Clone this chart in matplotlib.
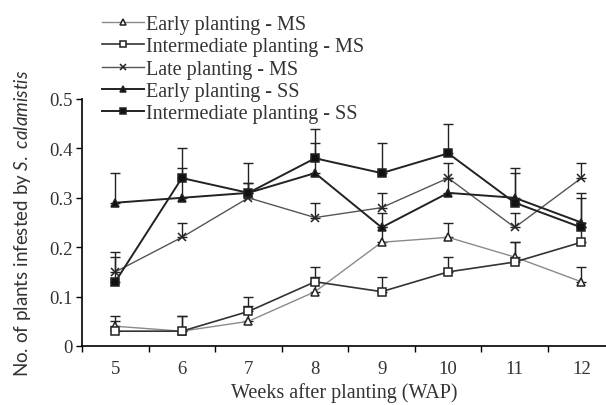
import numpy as np
import matplotlib
matplotlib.use("Agg")
import matplotlib.pyplot as plt

plt.rcParams['font.family'] = ['Liberation Serif', 'DejaVu Serif']
plt.rcParams['mathtext.fontset'] = 'custom'
plt.rcParams['mathtext.rm'] = 'Lato'
plt.rcParams['mathtext.it'] = 'Lato:italic'

weeks = [5, 6, 7, 8, 9, 10, 11, 12]

early_ms = [0.04, 0.03, 0.05, 0.11, 0.21, 0.22, 0.18, 0.13]
early_ms_err = [0.02, 0.03, 0.03, 0.03, 0.03, 0.03, 0.03, 0.03]

inter_ms = [0.03, 0.03, 0.07, 0.13, 0.11, 0.15, 0.17, 0.21]
inter_ms_err = [0.02, 0.03, 0.03, 0.03, 0.03, 0.03, 0.04, 0.03]

late_ms = [0.15, 0.22, 0.30, 0.26, 0.28, 0.34, 0.24, 0.34]
late_ms_err = [0.04, 0.03, 0.03, 0.03, 0.03, 0.03, 0.03, 0.03]

early_ss = [0.29, 0.30, 0.31, 0.35, 0.24, 0.31, 0.30, 0.25]
early_ss_err = [0.06, 0.06, 0.02, 0.06, 0.03, 0.03, 0.05, 0.05]

inter_ss = [0.13, 0.34, 0.31, 0.38, 0.35, 0.39, 0.29, 0.24]
inter_ss_err = [0.05, 0.06, 0.06, 0.06, 0.06, 0.06, 0.07, 0.07]

labels = ["Early planting - MS", "Intermediate planting - MS",
          "Late planting - MS", "Early planting - SS",
          "Intermediate planting - SS"]

fig = plt.figure(figsize=(6.06, 4.06), dpi=100)
ax = fig.add_axes([82 / 606, 1 - 347 / 406, 524 / 606, 247 / 406])

series = [
    (early_ms, early_ms_err, '^', 'white', '#8a8a8a', 1.0),
    (inter_ms, inter_ms_err, 's', 'white', '#333333', 1.2),
    (late_ms, late_ms_err, 'x', '#222222', '#555555', 1.0),
    (early_ss, early_ss_err, '^', '#111111', '#222222', 1.4),
    (inter_ss, inter_ss_err, 's', '#111111', '#222222', 1.4),
]

handles = []
for (vals, err, mk, fc, lc, lw), lab in zip(series, labels):
    vals = np.array(vals)
    yerr = [np.zeros_like(vals), np.array(err)]
    ax.errorbar(weeks, vals, yerr=yerr, fmt='none', ecolor='#222222',
                elinewidth=1.0, capsize=3.5, capthick=1.0, zorder=2)
    h, = ax.plot(weeks, vals, color=lc, lw=lw, marker=mk, markersize=6,
                 markerfacecolor=fc, markeredgecolor='#222222',
                 markeredgewidth=1.1, zorder=3, label=lab)
    handles.append(h)

ax.set_xlim(4.5, 12.37)
ax.set_ylim(0, 0.5)
ax.spines['top'].set_visible(False)
ax.spines['right'].set_visible(False)
ax.spines['left'].set_linewidth(1.2)
ax.spines['bottom'].set_linewidth(1.2)

ax.set_xticks(weeks)
ax.set_xticks(np.arange(4.5, 12.5, 1.0), minor=True)
ax.tick_params(axis='x', which='major', length=0, labelsize=13.5, pad=10)
ax.tick_params(axis='x', which='minor', length=4, width=1.0, direction='out')
ax.set_yticks([0, 0.1, 0.2, 0.3, 0.4, 0.5])
ax.set_yticklabels(["0", "0.1", "0.2", "0.3", "0.4", "0.5"])
ax.tick_params(axis='y', length=4, width=1.0, direction='out', labelsize=13.5,
               labelcolor='#333333', pad=3)
ax.tick_params(axis='x', labelcolor='#333333')

ax.set_xlabel("Weeks after planting (WAP)", fontsize=14.5, color='#333333',
              labelpad=4)
ax.set_ylabel(r"No. of plants infested by $\mathit{S.\ calamistis}$",
              fontsize=13.5, color='#333333', labelpad=11, family='Lato')

fig.legend(handles=handles, loc='upper left',
           bbox_to_anchor=(92 / 606, 1 - 6 / 406), frameon=False,
           fontsize=14.5, handlelength=2.1, handletextpad=0.1,
           labelspacing=0.16, borderpad=0, markerscale=0.75,
           labelcolor='#333333')

fig.savefig("out.png", dpi=100)
